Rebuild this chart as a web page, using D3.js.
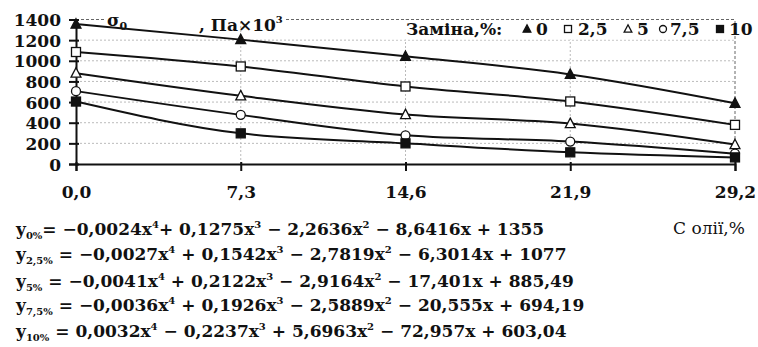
<!DOCTYPE html>
<html>
<head>
<meta charset="utf-8">
<script src="https://cdn.jsdelivr.net/npm/d3@7"></script>
<style>
  body { margin: 0; background: #fff; }
  svg { display: block; }
  text { font-family: "DejaVu Serif", "Liberation Serif", serif; font-weight: bold; fill: #111; }
</style>
</head>
<body>
<div id="chart"></div>
<script>
// oil content, % (x ticks)
const xTicks = [0, 7.3, 14.6, 21.9, 29.2];
const xLabels = ["0,0", "7,3", "14,6", "21,9", "29,2"];
const yTicks = [0, 200, 400, 600, 800, 1000, 1200, 1400];

// replacement levels, %
const seriesNames = ["0", "2,5", "5", "7,5", "10"];
const seriesSymbols = ["triangleFilled", "squareOpen", "triangleOpen", "circleOpen", "squareFilled"];

// sigma0, Pa x 10^3
const s0 = [1355, 1205, 1043, 868, 589];
const s25 = [1085, 945, 751, 606, 379];
const s5 = [880, 661, 479, 392, 188];
const s75 = [706, 476, 278, 217, 100];
const s10 = [605, 297, 200, 113, 64];
const seriesValues = [s0, s25, s5, s75, s10];

// trend equations: [subscript, text with superscripts marked by ^]
const equations = [
  ["0%", "= \u22120,0024x^4+ 0,1275x^3 \u2212 2,2636x^2 \u2212 8,6416x + 1355"],
  ["2,5%", " = \u22120,0027x^4 + 0,1542x^3 \u2212 2,7819x^2 \u2212 6,3014x + 1077"],
  ["5%", " = \u22120,0041x^4 + 0,2122x^3 \u2212 2,9164x^2 \u2212 17,401x + 885,49"],
  ["7,5%", " = \u22120,0036x^4 + 0,1926x^3 \u2212 2,5889x^2 \u2212 20,555x + 694,19"],
  ["10%", " = 0,0032x^4 \u2212 0,2237x^3 + 5,6963x^2 \u2212 72,957x + 603,04"]
];

const width = 758, height = 347;
const x = d3.scaleLinear().domain([0, 29.2]).range([76, 735]);
const y = d3.scaleLinear().domain([0, 1400]).range([164, 19.5]);

const svg = d3.select("#chart").append("svg")
  .attr("width", width)
  .attr("height", height);

// grid
svg.append("g").selectAll("line")
  .data(yTicks.slice(1))
  .join("line")
  .attr("x1", x(0)).attr("x2", x(29.2))
  .attr("y1", d => y(d)).attr("y2", d => y(d))
  .attr("stroke", d => d === 1400 ? "#666" : "#bbb")
  .attr("stroke-width", 1)
  .attr("stroke-dasharray", d => d === 1400 ? "3,2" : "2,2");

svg.append("g").selectAll("line")
  .data(xTicks.slice(1))
  .join("line")
  .attr("x1", d => x(d)).attr("x2", d => x(d))
  .attr("y1", y(0)).attr("y2", y(1400))
  .attr("stroke", d => d === 29.2 ? "#666" : "#bbb")
  .attr("stroke-width", 1)
  .attr("stroke-dasharray", d => d === 29.2 ? "3,2" : "2,2");

// axes
const yAxis = svg.append("g")
  .attr("transform", `translate(${x(0)},0)`)
  .call(d3.axisLeft(y).tickValues(yTicks).tickFormat(d3.format("d")).tickSize(7).tickPadding(8));
yAxis.selectAll("text").style("font-size", "17px").attr("dy", "0.36em");

const xAxis = svg.append("g")
  .attr("transform", `translate(0,${y(0)})`)
  .call(d3.axisBottom(x).tickValues(xTicks).tickFormat((d, i) => xLabels[i]).tickSize(7).tickPadding(15));
xAxis.selectAll("text").style("font-size", "17px");

[yAxis, xAxis].forEach(a => {
  a.select(".domain").attr("stroke", "#111").attr("stroke-width", 2);
  a.selectAll(".tick line").attr("stroke", "#111").attr("stroke-width", 2);
  a.selectAll("text").attr("fill", "#111").style("font-family", "DejaVu Serif").style("font-weight", "bold");
});
// ticks cross the left axis
yAxis.selectAll(".tick line").attr("x2", 3).attr("x1", -7);
xAxis.selectAll(".tick line").attr("y1", -2);

// title with white backing
const title = svg.append("g");
title.append("rect").attr("x", 104).attr("y", 10).attr("width", 180).attr("height", 12).attr("fill", "#fff");
const t1 = title.append("text").attr("x", 107).attr("y", 26).style("font-size", "17px");
t1.append("tspan").text("\u03c3");
t1.append("tspan").attr("dy", 4).style("font-size", "11px").text("0");
const t2 = title.append("text").attr("x", 199).attr("y", 31).style("font-size", "17px");
t2.append("tspan").text(", \u041f\u0430\u00d710");
t2.append("tspan").attr("dy", -8).style("font-size", "10px").text("3");

// curves
const line = d3.line()
  .x((d, i) => x(xTicks[i]))
  .y(d => y(d))
  .curve(d3.curveMonotoneX);

svg.append("g").selectAll("path")
  .data(seriesValues)
  .join("path")
  .attr("d", line)
  .attr("fill", "none")
  .attr("stroke", "#111")
  .attr("stroke-width", 2);

function drawMarker(g, kind, cx, cy, s) {
  const filled = kind.endsWith("Filled");
  const fill = filled ? "#111" : "#fff";
  if (kind.startsWith("triangle")) {
    g.append("path")
      .attr("d", `M${cx},${cy - s * 0.6}L${cx + s * 0.55},${cy + s * 0.45}L${cx - s * 0.55},${cy + s * 0.45}Z`)
      .attr("fill", fill).attr("stroke", "#111").attr("stroke-width", 1.3);
  } else if (kind.startsWith("square")) {
    g.append("rect")
      .attr("x", cx - s / 2).attr("y", cy - s / 2).attr("width", s).attr("height", s)
      .attr("fill", fill).attr("stroke", "#111").attr("stroke-width", 1.3);
  } else {
    g.append("circle")
      .attr("cx", cx).attr("cy", cy).attr("r", s / 2)
      .attr("fill", fill).attr("stroke", "#111").attr("stroke-width", 1.3);
  }
}

const markers = svg.append("g");
seriesValues.forEach((vals, si) => {
  vals.forEach((v, i) => drawMarker(markers, seriesSymbols[si], x(xTicks[i]), y(v), 9));
});

// legend
const legend = svg.append("g");
legend.append("rect").attr("x", 381).attr("y", 20.5).attr("width", 353).attr("height", 19).attr("fill", "#fff");
legend.append("text").attr("x", 406).attr("y", 35).style("font-size", "17px").text("\u0417\u0430\u043c\u0456\u043d\u0430,%:");
const legX = [527, 568, 628, 663, 720];
const legTx = [536, 578, 637, 670, 729];
seriesNames.forEach((n, i) => {
  drawMarker(legend, seriesSymbols[i], legX[i], 29, 7);
  legend.append("text").attr("x", legTx[i]).attr("y", 35).style("font-size", "17px").text(n);
});

// axis title
svg.append("text").attr("x", 673).attr("y", 234).style("font-size", "17px").style("font-weight", "normal").text("\u0421 \u043e\u043b\u0456\u0457,%");

// equations
const eqY = [235, 260, 287, 311, 337];
equations.forEach(([sub, body], i) => {
  const t = svg.append("text").attr("x", 16).attr("y", eqY[i]).style("font-size", "17px");
  t.append("tspan").text("y");
  t.append("tspan").attr("dy", 4).style("font-size", "10px").text(sub);
  const parts = body.split(/\^(\d)/);
  let first = true;
  parts.forEach((p, k) => {
    if (k % 2 === 1) {
      t.append("tspan").attr("dy", -7).style("font-size", "10px").text(p);
    } else {
      t.append("tspan").attr("dy", first ? -4 : 7).text(p);
    }
    first = false;
  });
});
</script>
</body>
</html>
